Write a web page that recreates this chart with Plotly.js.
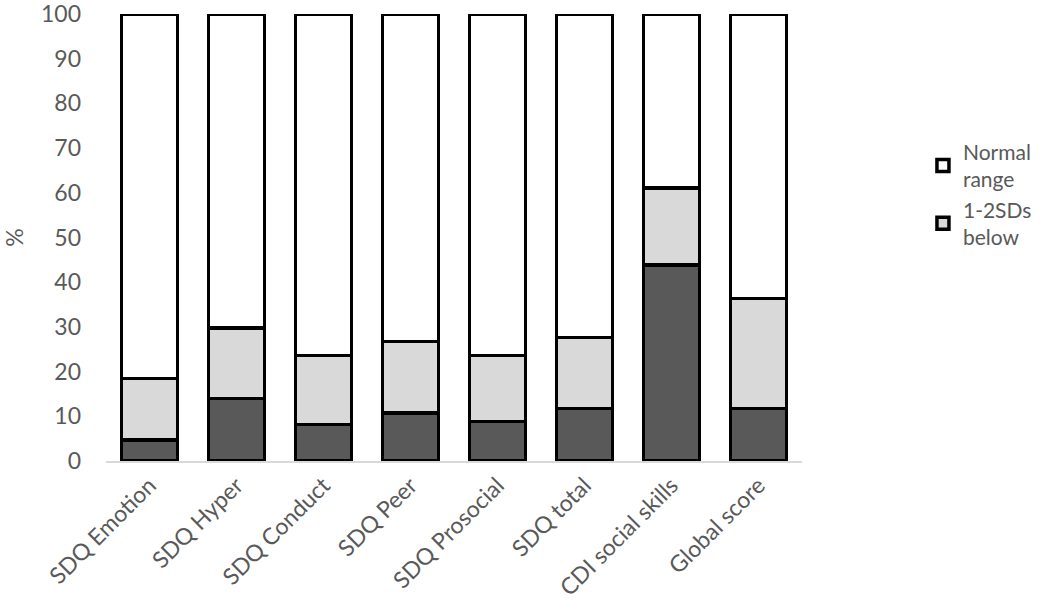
<!DOCTYPE html>
<html>
<head>
<meta charset="utf-8">
<script src="https://cdn.plot.ly/plotly-3.0.1.min.js"></script>
<style>
    html, body { margin: 0; padding: 0; background: #fff; }
    #graph { width: 1050px; height: 613px; }
</style>
</head>
<body>
<div id="graph"></div>
<script>
const categories = ['SDQ Emotion', 'SDQ Hyper', 'SDQ Conduct', 'SDQ Peer', 'SDQ Prosocial', 'SDQ total', 'CDI social skills', 'Global score'];

// share below 2 SDs (dark), 1-2 SDs below (light), normal range (white)
const belowTwoSD = [4.7, 14.0, 8.2, 10.7, 8.8, 11.8, 43.8, 11.8];
const oneToTwoSD = [13.8, 15.7, 15.4, 16.0, 14.8, 15.8, 17.3, 24.6];
const normalRange = [81.5, 70.3, 76.4, 73.3, 76.4, 72.4, 38.9, 63.6];

const yTicks = [0, 10, 20, 30, 40, 50, 60, 70, 80, 90, 100];
const seriesNames = ['2SDs below', '1-2SDs<br>below', 'Normal<br>range'];
const textColor = '#595959';
const fontFamily = 'Lato, "Open Sans", sans-serif';

function makeBar(values, name, color, showInLegend) {
    return {
        x: categories,
        y: values,
        type: 'bar',
        name: name,
        showlegend: showInLegend,
        marker: {
            color: color,
            line: {color: '#000000', width: 3.5}
        },
        hoverinfo: 'x+y+name'
    };
}

const traces = [
    makeBar(belowTwoSD, seriesNames[0], '#595959', false),
    makeBar(oneToTwoSD, seriesNames[1], '#d9d9d9', true),
    makeBar(normalRange, seriesNames[2], '#ffffff', true)
];

const layout = {
    width: 1050,
    height: 613,
    barmode: 'stack',
    bargap: 0.36,
    paper_bgcolor: '#ffffff',
    plot_bgcolor: '#ffffff',
    font: {family: fontFamily, size: 23, color: textColor},
    margin: {l: 106, r: 248, t: 14, b: 152},
    xaxis: {
        tickangle: -45,
        showline: true,
        linecolor: '#d9d9d9',
        linewidth: 2,
        showgrid: false,
        zeroline: false,
        ticks: '',
        tickfont: {size: 23, color: textColor}
    },
    yaxis: {
        range: [0, 100],
        tickmode: 'array',
        tickvals: yTicks,
        ticktext: yTicks.map(String),
        ticklabeloverflow: 'allow',
        showgrid: false,
        zeroline: false,
        showline: false,
        ticks: '',
        ticklabelstandoff: 24,
        tickfont: {size: 23, color: textColor},
        title: {text: '%', font: {size: 23, color: textColor}, standoff: 30}
    },
    legend: {
        xref: 'container',
        yref: 'container',
        x: 0.879,
        y: 0.785,
        xanchor: 'left',
        yanchor: 'top',
        traceorder: 'reversed',
        font: {size: 21, color: textColor},
        itemwidth: 30,
        tracegroupgap: 14
    }
};

Plotly.newPlot('graph', traces, layout, {displayModeBar: false, staticPlot: true});
</script>
</body>
</html>
